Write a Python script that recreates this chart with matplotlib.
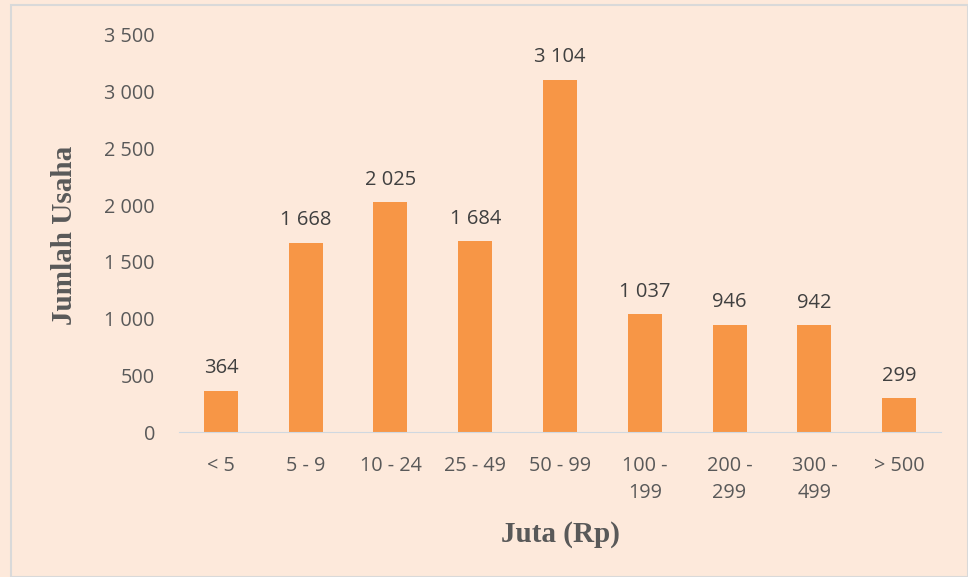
import matplotlib.pyplot as plt
import matplotlib.patches as patches
import matplotlib.ticker as mticker

categories = ["< 5", "5 - 9", "10 - 24", "25 - 49", "50 - 99",
              "100 -\n199", "200 -\n299", "300 -\n499", "> 500"]
values = [364, 1668, 2025, 1684, 3104, 1037, 946, 942, 299]

bg = "#FDE9DB"
bar_color = "#F79646"
text_color = "#595959"


def fmt(v, pos=None):
    return f"{int(v):,}".replace(",", " ")


fig = plt.figure(figsize=(9.68, 5.77), dpi=100)
fig.patch.set_facecolor(bg)
fig.patches.append(patches.Rectangle((11 / 968, 0), 1 - 11 / 968, 1 - 5 / 577,
                                     transform=fig.transFigure, fill=False,
                                     edgecolor="#D9D9D9", linewidth=1.5))

ax = fig.add_axes([178.5 / 968, 1 - 432 / 577, 763 / 968, 397 / 577])
ax.set_facecolor(bg)

x = range(len(categories))
bars = ax.bar(x, values, width=0.4, color=bar_color)
for i, v in enumerate(values):
    ax.text(i, v + 110, fmt(v), ha="center", va="bottom",
            fontsize=14.5, color="#404040", family="Open Sans")

ax.set_xlim(-0.5, len(categories) - 0.5)
ax.set_ylim(0, 3500)
ax.yaxis.set_major_locator(mticker.MultipleLocator(500))
ax.yaxis.set_major_formatter(mticker.FuncFormatter(fmt))
ax.set_xticks(list(x))
ax.set_xticklabels(categories, linespacing=1.5)

for s in ["top", "right", "left"]:
    ax.spines[s].set_visible(False)
ax.spines["bottom"].set_color("#D0D8E0")
ax.tick_params(axis="both", length=0, labelsize=14.3, labelcolor=text_color)
ax.tick_params(axis="x", pad=17)
ax.tick_params(axis="y", pad=17)
for lbl in ax.get_xticklabels() + ax.get_yticklabels():
    lbl.set_family("Open Sans")
for lbl in ax.get_xticklabels():
    lbl.set_verticalalignment("top")

fig.text(65 / 968, 1 - 235 / 577, "Jumlah Usaha", rotation=90, ha="center", va="center",
         fontsize=21, fontweight="bold", family="Liberation Serif", color=text_color)
fig.text(560 / 968, 1 - 535 / 577, "Juta (Rp)", ha="center", va="center",
         fontsize=21, fontweight="bold", family="Liberation Serif", color=text_color)

fig.savefig("out.png", dpi=100, facecolor=bg)
